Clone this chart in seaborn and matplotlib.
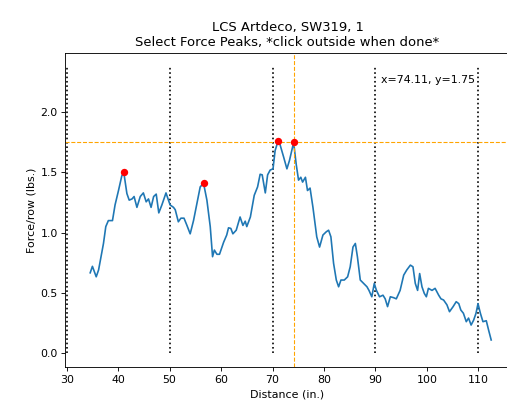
import matplotlib
matplotlib.use("Agg")
import matplotlib.pyplot as plt
import seaborn as sns
import pandas as pd

# Force curve
distance = [34.57, 35.0, 35.74, 36.2, 37.15, 37.6, 38.1, 38.9, 39.4, 40.07, 40.7, 41.1,
            41.7, 42.15, 42.7, 43.1, 43.65, 44.3, 44.9, 45.45, 45.9, 46.4, 46.9, 47.4,
            47.9, 48.5, 49.3, 50.1, 50.76, 51.1, 51.7, 52.2, 52.8, 53.37, 54.0, 54.65,
            55.3, 55.95, 56.6, 57.25, 57.9, 58.35, 58.7, 59.2, 59.7, 60.5, 61.1, 61.45,
            61.9, 62.3, 62.95, 63.7, 64.25, 64.7, 65.0, 65.7, 66.45, 67.1, 67.6, 68.0,
            68.6, 69.05, 69.55, 70.1, 70.5, 71.0, 71.2, 72.15, 72.8, 73.3, 74.11, 74.6,
            75.06, 75.5, 75.85, 76.4, 76.8, 77.3, 77.86, 78.6, 79.15, 79.8, 80.45, 80.9,
            81.35, 81.87, 82.4, 82.85, 83.3, 83.95, 84.6, 85.1, 85.64, 86.1, 86.5, 87.06,
            87.7, 88.36, 88.75, 89.3, 89.78, 90.2, 90.8, 91.47, 91.9, 92.36, 92.9, 93.5,
            94.06, 94.8, 95.5, 96.1, 96.8, 97.3, 97.75, 98.2, 98.6, 99.05, 99.5, 99.9,
            100.3, 101.0, 101.6, 102.3, 102.74, 103.25, 103.9, 104.4, 105.1, 105.7, 106.2,
            106.6, 107.1, 107.66, 108.1, 108.6, 109.1, 109.55, 109.94, 110.4, 110.9,
            111.55, 112.0, 112.5]
force = [0.666, 0.72, 0.633, 0.69, 0.91, 1.05, 1.10, 1.10, 1.23, 1.35, 1.47, 1.50,
         1.325, 1.27, 1.28, 1.30, 1.21, 1.30, 1.33, 1.256, 1.28, 1.21, 1.30, 1.32,
         1.164, 1.23, 1.33, 1.23, 1.21, 1.19, 1.09, 1.12, 1.12, 1.06, 0.99, 1.10,
         1.24, 1.38, 1.41, 1.27, 1.05, 0.80, 0.855, 0.82, 0.82, 0.92, 0.98, 1.04,
         1.035, 0.99, 1.02, 1.13, 1.06, 1.095, 1.05, 1.13, 1.31, 1.38, 1.485, 1.48,
         1.33, 1.48, 1.52, 1.53, 1.68, 1.75, 1.77, 1.63, 1.53, 1.60, 1.75, 1.57,
         1.436, 1.46, 1.42, 1.46, 1.35, 1.37, 1.21, 0.965, 0.88, 0.98, 1.007, 1.02,
         0.965, 0.745, 0.606, 0.55, 0.606, 0.606, 0.633, 0.716, 0.88, 0.91, 0.80, 0.606,
         0.578, 0.55, 0.52, 0.467, 0.578, 0.52, 0.467, 0.48, 0.45, 0.385, 0.467, 0.46,
         0.45, 0.52, 0.647, 0.69, 0.73, 0.716, 0.578, 0.52, 0.66, 0.55, 0.495, 0.467,
         0.537, 0.52, 0.537, 0.48, 0.45, 0.44, 0.40, 0.343, 0.385, 0.426, 0.41,
         0.357, 0.33, 0.26, 0.29, 0.232, 0.274, 0.33, 0.41, 0.33, 0.26,
         0.268, 0.19, 0.108]

# Selected peaks
peak_x = [41.1, 56.6, 71.0, 74.11]
peak_y = [1.50, 1.41, 1.76, 1.75]

# Row boundaries
row_lines = [30, 50, 70, 90, 110]
row_line_top = 2.376

# Cursor
cursor_x = 74.11
cursor_y = 1.75

title_lines = ["LCS Artdeco, SW319, 1", "Select Force Peaks, *click outside when done*"]
x_label = "Distance (in.)"
y_label = "Force/row (lbs.)"
x_ticks = [30, 40, 50, 60, 70, 80, 90, 100, 110]
y_ticks = [0.0, 0.5, 1.0, 1.5, 2.0]

DPI = 79
fig = plt.figure(figsize=(508 / DPI, 404 / DPI), dpi=DPI)
ax = fig.add_axes([65.5 / 508, 36.7 / 404, (509.5 - 65.5) / 508, (351.3 - 36.7) / 404])

for xv in row_lines:
    ax.vlines(xv, 0, row_line_top, colors="black", linestyles=":", linewidth=1.5)

curve = pd.DataFrame({"distance": distance, "force": force})
sns.lineplot(data=curve, x="distance", y="force", ax=ax, color="#1f77b4",
             linewidth=1.5, sort=False, estimator=None)

peaks = pd.DataFrame({"x": peak_x, "y": peak_y})
sns.scatterplot(data=peaks, x="x", y="y", ax=ax, color="red", s=45,
                linewidth=0, zorder=3)

ax.axhline(cursor_y, color="orange", linestyle="--", linewidth=1.0)
ax.axvline(cursor_x, color="orange", linestyle="--", linewidth=1.0)
ax.text(91.1, 2.27, f"x={cursor_x:.2f}, y={cursor_y:.2f}", ha="left", va="center",
        fontsize=10)

ax.set_xlim(29.77, 116.06)
ax.set_ylim(-0.119, 2.495)
ax.set_xticks(x_ticks)
ax.set_yticks(y_ticks)
ax.set_xlabel(x_label)
ax.set_ylabel(y_label)
ax.set_title("\n".join(title_lines))

fig.savefig("out.png", dpi=DPI)
